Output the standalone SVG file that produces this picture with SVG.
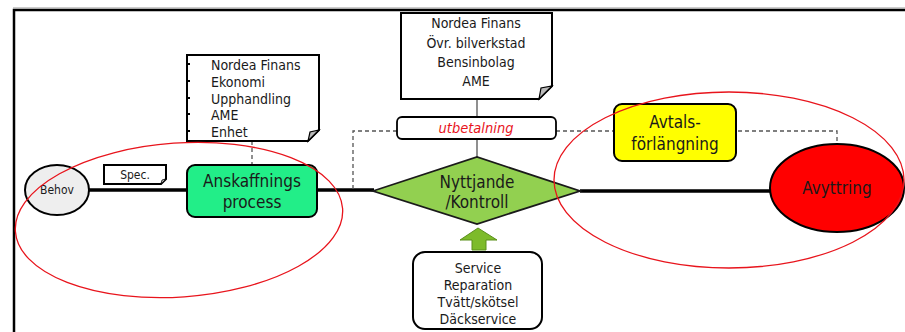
<svg xmlns="http://www.w3.org/2000/svg" width="905" height="332" viewBox="0 0 905 332">
<style>
text{font-family:"DejaVu Sans Condensed","Open Sans",sans-serif;fill:#1a1a1a;text-anchor:middle}
.t13{font-size:14px}
.t16{font-size:17px}
.doc{fill:#fff;stroke:#000;stroke-width:2}
.fold{fill:#bbb;stroke:#000;stroke-width:1.2}
.dash{fill:none;stroke:#555;stroke-width:1.3;stroke-dasharray:4 3}
.main{fill:none;stroke:#000;stroke-width:3.5}
.red{fill:none;stroke:#e8141c;stroke-width:1.3}
</style>
<rect width="905" height="332" fill="#fff"/>
<path d="M14 332 V10 H905" fill="none" stroke="#000" stroke-width="2.5"/>
<path d="M13 8 H905" stroke="#999" stroke-width="1" fill="none"/>
<g id="connectors">
<path class="main" d="M89 190 H187 M317 190 H374 M580 191 H770"/>
<path class="dash" d="M252 141 V165"/>
<path class="dash" d="M397 131 H353 V190"/>
<path class="dash" d="M556 131 H837 V145"/>
<path d="M477 99 V117 M477 139 V157" stroke="#555" stroke-width="1.3" fill="none"/>
</g>
<g id="behov">
<ellipse cx="57" cy="190" rx="32" ry="25" fill="#eeeeee" stroke="#000" stroke-width="2"/>
<text x="57" y="194" style="font-size:12px">Behov</text>
</g>
<g id="spec">
<path class="doc" d="M104 165 H166 V179 L161 184 H104 Z" stroke-width="1.5"/>
<path d="M166 179 L161 184 L162 180 Z" fill="#bbb" stroke="#000" stroke-width="0.8"/>
<text x="135" y="179" style="font-size:12px">Spec.</text>
</g>
<g id="anskaffning">
<rect x="187" y="165" width="130" height="52" rx="8" fill="#22ee88" stroke="#000" stroke-width="2"/>
<text class="t16" x="252" y="187">Anskaffnings</text>
<text class="t16" x="252" y="208">process</text>
</g>
<g id="lista">
<path class="doc" d="M187 55 H319 V130 L308 141 H187 Z"/>
<path class="fold" d="M319 130 L308 141 L310 132 Z"/>
<g fill="#000"><rect x="187" y="63" width="3" height="2"/><rect x="187" y="80" width="3" height="2"/><rect x="187" y="97" width="3" height="2"/><rect x="187" y="113" width="3" height="2"/><rect x="187" y="130" width="3" height="2"/></g>
<g class="t13">
<text x="211" y="70" style="text-anchor:start">Nordea Finans</text>
<text x="211" y="87" style="text-anchor:start">Ekonomi</text>
<text x="211" y="104" style="text-anchor:start">Upphandling</text>
<text x="211" y="120" style="text-anchor:start">AME</text>
<text x="211" y="137" style="text-anchor:start">Enhet</text>
</g>
</g>
<g id="aktorer">
<path class="doc" d="M401 13 H552 V86 L539 99 H401 Z"/>
<path class="fold" d="M552 86 L539 99 L541 88 Z"/>
<text class="t13" x="476" y="28">Nordea Finans</text>
<text class="t13" x="476" y="48">Övr. bilverkstad</text>
<text class="t13" x="476" y="67">Bensinbolag</text>
<text class="t13" x="476" y="86">AME</text>
</g>
<g id="utbetalning">
<rect x="397" y="117" width="159" height="22" rx="5" fill="#fff" stroke="#000" stroke-width="1.8"/>
<text x="476" y="133" style="font-size:14.5px;font-style:italic;fill:#e8141c">utbetalning</text>
</g>
<g id="nyttjande">
<path d="M373 191 L477 157 L580 191 L477 224 Z" fill="#92d050" stroke="#1a1a1a" stroke-width="1.8"/>
<text class="t16" x="477" y="188">Nyttjande</text>
<text class="t16" x="477" y="208">/Kontroll</text>
</g>
<g id="pil">
<path d="M478 228 L497 240 H486 V250 H472 V240 H460 Z" fill="#7dbb2a" stroke="#5a8f1a" stroke-width="1"/>
</g>
<g id="service">
<rect x="413" y="252" width="129" height="77" rx="12" fill="#fff" stroke="#000" stroke-width="2"/>
<text class="t13" x="478" y="273">Service</text>
<text class="t13" x="478" y="290">Reparation</text>
<text class="t13" x="478" y="307">Tvätt/skötsel</text>
<text class="t13" x="478" y="324">Däckservice</text>
</g>
<g id="avtal">
<rect x="614" y="104" width="122" height="57" rx="8" fill="#ffff00" stroke="#000" stroke-width="2"/>
<text class="t16" x="675" y="128">Avtals-</text>
<text class="t16" x="675" y="150">förlängning</text>
</g>
<g id="avyttring">
<ellipse cx="837" cy="188" rx="67" ry="44" fill="#ff0000" stroke="#000" stroke-width="2"/>
<text class="t16" x="837" y="194">Avyttring</text>
</g>
<g id="markering">
<ellipse class="red" cx="179" cy="220" rx="164" ry="77" transform="rotate(-4 179 220)"/>
<ellipse class="red" cx="729" cy="180" rx="175" ry="88"/>
</g>
</svg>
